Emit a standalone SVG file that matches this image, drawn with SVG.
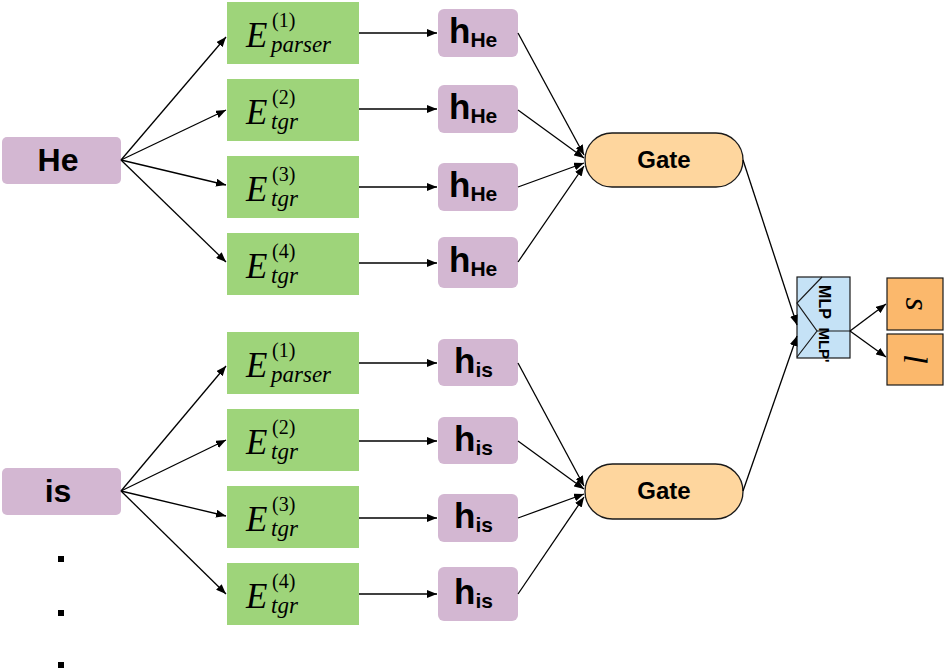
<svg xmlns="http://www.w3.org/2000/svg" width="947" height="672" viewBox="0 0 947 672">
<style>
.word{fill:#d3b7d2}
.enc{fill:#9ed47a}
.h{fill:#d3b7d2}
.gate{fill:#fed69e;stroke:#1a1a1a;stroke-width:1.3}
.out{fill:#fbb86c;stroke:#1a1a1a;stroke-width:1.2}
.mlp{fill:#c5e2f6;stroke:#1a1a1a;stroke-width:1.2}
.sans{font-family:"Liberation Sans",Arial,sans-serif;font-weight:bold;fill:#000}
.serif{font-family:"Liberation Serif","Times New Roman",serif;fill:#000}
.it{font-style:italic}
.E{font-size:35px;font-style:italic}
.sup{font-size:20px}
.sub{font-size:23px;font-style:italic}
.conn line{stroke:#000;stroke-width:1.3;marker-end:url(#ah)}
</style>
<defs>
<marker id="ah" viewBox="0 0 10 8" refX="10" refY="4" markerWidth="10" markerHeight="8" markerUnits="userSpaceOnUse" orient="auto">
<path d="M0,0 L10,4 L0,8 Z" fill="#000"/>
</marker>
</defs>
<rect width="947" height="672" fill="#fff"/>

<g id="word-He"><rect class="word" x="2" y="137" width="119" height="47" rx="5"/><text class="sans" x="58" y="171" font-size="32" text-anchor="middle">He</text></g>
<g id="word-is"><rect class="word" x="2" y="468" width="119" height="47" rx="5"/><text class="sans" x="58" y="502" font-size="32" text-anchor="middle">is</text></g>

<g id="enc-He-1"><rect class="enc" x="227" y="2" width="132" height="62"/><text class="serif E" x="246" y="47">E</text><text class="serif sup" x="272" y="27">(1)</text><text class="serif sub" x="271" y="52">parser</text></g>
<g id="enc-He-2"><rect class="enc" x="227" y="79" width="132" height="62"/><text class="serif E" x="246" y="124">E</text><text class="serif sup" x="272" y="104">(2)</text><text class="serif sub" x="271" y="129">tgr</text></g>
<g id="enc-He-3"><rect class="enc" x="227" y="156" width="132" height="62"/><text class="serif E" x="246" y="201">E</text><text class="serif sup" x="272" y="181">(3)</text><text class="serif sub" x="271" y="206">tgr</text></g>
<g id="enc-He-4"><rect class="enc" x="227" y="233" width="132" height="62"/><text class="serif E" x="246" y="278">E</text><text class="serif sup" x="272" y="258">(4)</text><text class="serif sub" x="271" y="283">tgr</text></g>

<g id="enc-is-1"><rect class="enc" x="227" y="332" width="132" height="62"/><text class="serif E" x="246" y="377">E</text><text class="serif sup" x="272" y="357">(1)</text><text class="serif sub" x="271" y="382">parser</text></g>
<g id="enc-is-2"><rect class="enc" x="227" y="409" width="132" height="62"/><text class="serif E" x="246" y="454">E</text><text class="serif sup" x="272" y="434">(2)</text><text class="serif sub" x="271" y="459">tgr</text></g>
<g id="enc-is-3"><rect class="enc" x="227" y="486" width="132" height="62"/><text class="serif E" x="246" y="531">E</text><text class="serif sup" x="272" y="511">(3)</text><text class="serif sub" x="271" y="536">tgr</text></g>
<g id="enc-is-4"><rect class="enc" x="227" y="563" width="132" height="62"/><text class="serif E" x="246" y="608">E</text><text class="serif sup" x="272" y="588">(4)</text><text class="serif sub" x="271" y="613">tgr</text></g>

<g id="h-He-1"><rect class="h" x="438" y="9" width="80" height="48" rx="6"/><text class="sans" x="449" y="43"><tspan font-size="35">h</tspan><tspan font-size="21" dy="4">He</tspan></text></g>
<g id="h-He-2"><rect class="h" x="438" y="85" width="80" height="48" rx="6"/><text class="sans" x="449" y="119"><tspan font-size="35">h</tspan><tspan font-size="21" dy="4">He</tspan></text></g>
<g id="h-He-3"><rect class="h" x="438" y="163" width="80" height="48" rx="6"/><text class="sans" x="449" y="197"><tspan font-size="35">h</tspan><tspan font-size="21" dy="4">He</tspan></text></g>
<g id="h-He-4"><rect class="h" x="438" y="237" width="80" height="51" rx="6"/><text class="sans" x="449" y="272"><tspan font-size="35">h</tspan><tspan font-size="21" dy="4">He</tspan></text></g>

<g id="h-is-1"><rect class="h" x="438" y="339" width="80" height="47" rx="6"/><text class="sans" x="454" y="373"><tspan font-size="35">h</tspan><tspan font-size="21" dy="4">is</tspan></text></g>
<g id="h-is-2"><rect class="h" x="438" y="417" width="80" height="47" rx="6"/><text class="sans" x="454" y="451"><tspan font-size="35">h</tspan><tspan font-size="21" dy="4">is</tspan></text></g>
<g id="h-is-3"><rect class="h" x="438" y="494" width="80" height="48" rx="6"/><text class="sans" x="454" y="528"><tspan font-size="35">h</tspan><tspan font-size="21" dy="4">is</tspan></text></g>
<g id="h-is-4"><rect class="h" x="438" y="567" width="80" height="54" rx="6"/><text class="sans" x="454" y="604"><tspan font-size="35">h</tspan><tspan font-size="21" dy="4">is</tspan></text></g>

<g id="gate-He"><rect class="gate" x="585" y="133" width="158" height="54" rx="27"/><text class="sans" x="664" y="168" font-size="24" text-anchor="middle">Gate</text></g>
<g id="gate-is"><rect class="gate" x="585" y="464" width="158" height="55" rx="27.5"/><text class="sans" x="664" y="499" font-size="24" text-anchor="middle">Gate</text></g>

<g id="mlp">
<rect class="mlp" x="797" y="277" width="53" height="81"/>
<polyline points="822,277 797,303 817,331 797,357" fill="none" stroke="#1a1a1a" stroke-width="1.2"/>
<line x1="817" y1="331" x2="850" y2="331" stroke="#1a1a1a" stroke-width="1.2"/>
<text class="sans" font-size="16" text-anchor="middle" transform="translate(819,302) rotate(90)">MLP</text>
<text class="sans" font-size="15" text-anchor="middle" transform="translate(819,345) rotate(90)">MLP'</text>
</g>

<g id="out-s"><rect class="out" x="887" y="278" width="56" height="52"/><text class="serif it" font-size="34" text-anchor="middle" transform="translate(906,304) rotate(90)">s</text></g>
<g id="out-l"><rect class="out" x="887" y="334" width="56" height="51"/><text class="serif it" font-size="34" text-anchor="middle" transform="translate(904,359) rotate(90)">l</text></g>

<g id="dots" fill="#000">
<rect x="58" y="556" width="6" height="6"/>
<rect x="58" y="610" width="6" height="6"/>
<rect x="58" y="662" width="6" height="6"/>
</g>

<g id="connectors" class="conn">
<line x1="121" y1="160" x2="226" y2="37"/>
<line x1="121" y1="160" x2="226" y2="110"/>
<line x1="121" y1="160" x2="226" y2="185"/>
<line x1="121" y1="160" x2="226" y2="262"/>
<line x1="121" y1="491" x2="226" y2="366"/>
<line x1="121" y1="491" x2="226" y2="440"/>
<line x1="121" y1="491" x2="226" y2="516"/>
<line x1="121" y1="491" x2="226" y2="594"/>

<line x1="359" y1="33" x2="437" y2="33"/>
<line x1="359" y1="109" x2="437" y2="109"/>
<line x1="359" y1="187" x2="437" y2="187"/>
<line x1="359" y1="263" x2="437" y2="263"/>
<line x1="359" y1="363" x2="437" y2="363"/>
<line x1="359" y1="441" x2="437" y2="441"/>
<line x1="359" y1="518" x2="437" y2="518"/>
<line x1="359" y1="594" x2="437" y2="594"/>

<line x1="518" y1="33" x2="584" y2="155"/>
<line x1="518" y1="110" x2="584" y2="158"/>
<line x1="518" y1="187" x2="584" y2="163"/>
<line x1="518" y1="262" x2="584" y2="166"/>
<line x1="518" y1="363" x2="584" y2="486"/>
<line x1="518" y1="441" x2="584" y2="489"/>
<line x1="518" y1="518" x2="584" y2="494"/>
<line x1="518" y1="594" x2="584" y2="497"/>

<line x1="743" y1="160" x2="797" y2="325"/>
<line x1="743" y1="491" x2="797" y2="336"/>

<line x1="850" y1="331" x2="886" y2="304"/>
<line x1="850" y1="331" x2="886" y2="357"/>
</g>
</svg>
